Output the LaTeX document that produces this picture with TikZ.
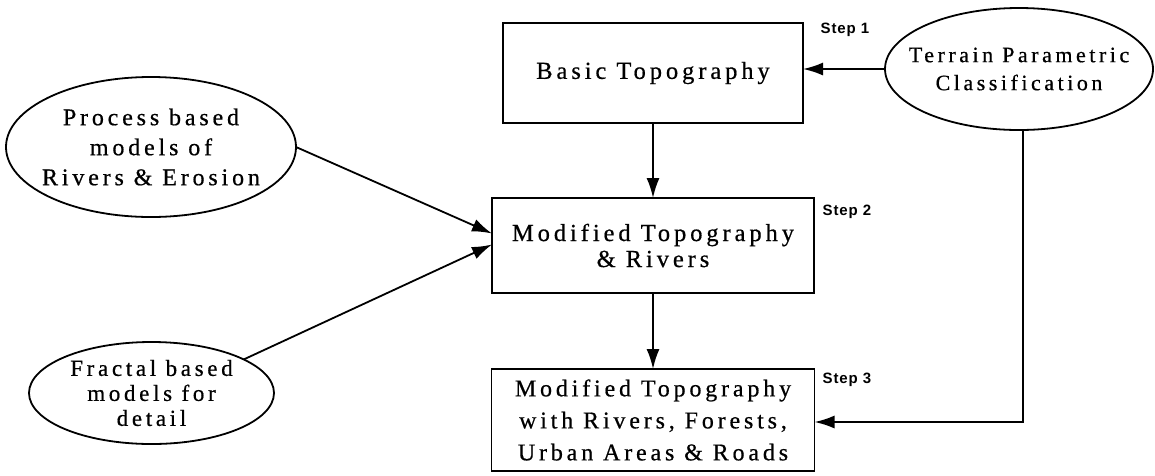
\documentclass[tikz,border=0pt]{standalone}
\usepackage{fontspec}
\setmainfont{Liberation Serif}[LetterSpace=16, FakeBold=0.6]
\newfontfamily\stepfont{Liberation Sans}[LetterSpace=6]
\usetikzlibrary{arrows.meta,shapes.geometric}
\begin{document}
\begin{tikzpicture}[x=1pt,y=-1pt,
  every node/.style={inner sep=0pt, outer sep=0pt},
  box/.style={draw, line width=1.8pt, align=center, fill=white},
  oval/.style={draw, ellipse, line width=1.8pt, fill=white},
  lbl/.style={align=center},
  steplbl/.style={font=\stepfont\bfseries\fontsize{15}{17}\selectfont},
  conn/.style={line width=1.8pt, -{Latex[length=20pt,width=13pt]}}]
\fill[white] (0,0) rectangle (1155,475);
\useasboundingbox (0,0) rectangle (1155,475);

% boxes
\node[box, minimum width=300pt, minimum height=100pt,
      font=\fontsize{24.5}{28}\selectfont] (box1) at (653,73) {Basic Topography};
\node[box, minimum width=322pt, minimum height=95pt,
      font=\fontsize{24.5}{26}\selectfont] (box2) at (653,245.5) {Modified Topography\\\& Rivers};
\node[box, minimum width=323pt, minimum height=102pt,
      font=\fontsize{24}{32}\selectfont] (box3) at (653,420) {Modified Topography\\with Rivers, Forests,\\Urban Areas \& Roads};

% ellipses
\node[oval, minimum width=268pt, minimum height=122pt,
      label={[lbl, font=\fontsize{22}{28}\selectfont]center:Terrain Parametric\\Classification}] (tpc) at (1019,69) {};
\node[oval, minimum width=290pt, minimum height=140pt,
      label={[lbl, font=\fontsize{24}{30}\selectfont]center:Process based\\models of\\Rivers \& Erosion}] (proc) at (151,147) {};
\node[oval, minimum width=245pt, minimum height=102pt,
      label={[lbl, font=\fontsize{23}{25}\selectfont]center:Fractal based\\models for\\detail}] (frac) at (151.5,393) {};

% step labels
\node[steplbl] (s1) at (845,30) {Step 1};
\node[steplbl] (s2) at (847,212) {Step 2};
\node[steplbl] (s3) at (847,380) {Step 3};

% connectors
\draw[conn] (tpc.west) -- (tpc.west -| box1.east);
\draw[conn] (box1.south) -- (box2.north);
\draw[conn] (box2.south) -- (box3.north);
\draw[conn] (proc.east) -- ([yshift=12pt]box2.west);
\draw[conn] (frac.20) -- ([yshift=1pt]box2.west);
\draw[conn] ([xshift=4pt]tpc.south) |- ([yshift=-2pt]box3.east);
\end{tikzpicture}
\end{document}
